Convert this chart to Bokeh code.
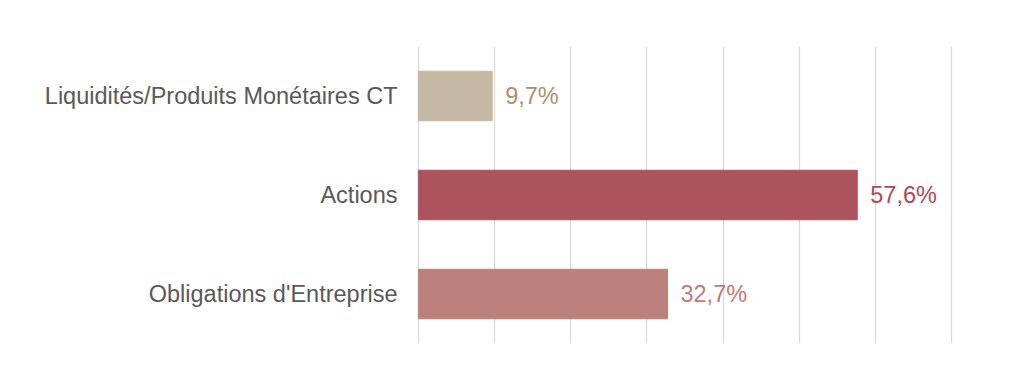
from bokeh.plotting import figure
from bokeh.models import ColumnDataSource, FactorRange, Range1d, FixedTicker
from bokeh.core.properties import value
from bokeh.embed import file_html
from bokeh.resources import INLINE

categories = ["Liquidités/Produits Monétaires CT", "Actions", "Obligations d'Entreprise"]
values = [9.7, 57.6, 32.7]
labels = ["9,7%", "57,6%", "32,7%"]
bar_colors = ["#c5b9a3", "#ad535c", "#bc817a"]
text_colors = ["#a8926e", "#ad4a55", "#bf7b74"]
grid_ticks = [0, 10, 20, 30, 40, 50, 60, 70]

src = ColumnDataSource(dict(cat=categories, val=values, lab=labels,
                            bc=bar_colors, tc=text_colors))

p = figure(width=1021, height=376, output_backend="svg", toolbar_location=None,
           y_range=FactorRange(factors=categories[::-1], range_padding=0),
           x_range=Range1d(-0.1, 70.1),
           min_border_left=417, min_border_right=69, min_border_top=46, min_border_bottom=33)
p.outline_line_color = None
p.background_fill_color = "white"
p.border_fill_color = "white"

p.hbar(y="cat", right="val", left=0, height=0.5, color="bc", source=src)
p.text(x="val", y="cat", text="lab", text_color="tc", source=src,
       x_offset=13, text_align="left", text_baseline="middle",
       text_font=value("Liberation Sans"), text_font_size="23.5px")

p.xaxis.visible = False
p.xgrid.ticker = FixedTicker(ticks=grid_ticks)
p.xgrid.grid_line_color = "#d9d9d9"
p.xgrid.grid_line_width = 1.3
p.ygrid.grid_line_color = None

ya = p.yaxis[0]
ya.axis_line_color = None
ya.major_tick_line_color = None
ya.minor_tick_line_color = None
ya.major_tick_out = 0
ya.major_tick_in = 0
ya.major_label_standoff = 20
ya.major_label_text_font = "Liberation Sans"
ya.major_label_text_font_size = "23.5px"
ya.major_label_text_color = "#595959"

open("out.html", "w").write(file_html(p, INLINE))
